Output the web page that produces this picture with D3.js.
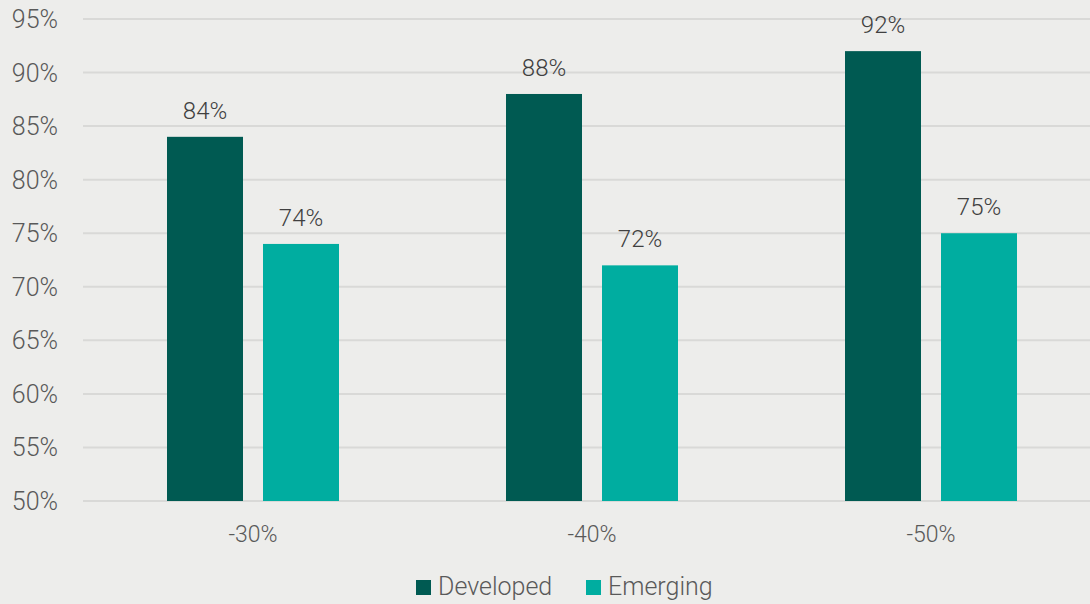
<!DOCTYPE html>
<html>
<head>
<meta charset="utf-8">
<script src="https://cdn.jsdelivr.net/npm/d3@7"></script>
<style>
  body { margin: 0; background: #ededeb; }
  svg { display: block; }
  text { font-family: Roboto, "Liberation Sans", sans-serif; font-weight: 300; }
</style>
</head>
<body>
<div id="chart"></div>
<script>
var categories = ["-30%", "-40%", "-50%"];
var seriesNames = ["Developed", "Emerging"];
var developed = [84, 88, 92];
var emerging = [74, 72, 75];
var yTicks = [50, 55, 60, 65, 70, 75, 80, 85, 90, 95];
var colors = ["#005a52", "#00ada0"];

var width = 1090, height = 604;

var svg = d3.select("#chart").append("svg")
    .attr("width", width)
    .attr("height", height);

svg.append("rect")
    .attr("width", width)
    .attr("height", height)
    .attr("fill", "#ededeb");

var x = d3.scaleBand()
    .domain(categories)
    .range([83.5, 1100.5]);

// bars inside one category band (band step 339)
var xInner = d3.scaleBand()
    .domain(seriesNames)
    .range([83.5, 255.5])
    .paddingInner(20 / 96);

var y = d3.scaleLinear()
    .domain([50, 95])
    .range([501, 19]);

// grid
svg.append("g").selectAll("line")
    .data(yTicks)
    .enter().append("line")
    .attr("x1", 83)
    .attr("x2", width)
    .attr("y1", function(d) { return y(d); })
    .attr("y2", function(d) { return y(d); })
    .attr("stroke", "#d9d9d7")
    .attr("stroke-width", 2);

// y labels
svg.append("g").selectAll("text")
    .data(yTicks)
    .enter().append("text")
    .attr("x", 58)
    .attr("y", function(d) { return y(d); })
    .attr("dy", "0.36em")
    .attr("text-anchor", "end")
    .attr("font-size", 25)
    .attr("fill", "#595959")
    .text(function(d) { return d + "%"; });

var rows = categories.map(function(c, i) {
  return { cat: c, values: [developed[i], emerging[i]] };
});

var groups = svg.selectAll("g.grp")
    .data(rows)
    .enter().append("g")
    .attr("class", "grp")
    .attr("transform", function(d) { return "translate(" + x(d.cat) + ",0)"; });

groups.selectAll("rect")
    .data(function(d) { return d.values.map(function(v, j) { return { name: seriesNames[j], v: v, j: j }; }); })
    .enter().append("rect")
    .attr("x", function(d) { return xInner(d.name); })
    .attr("width", xInner.bandwidth())
    .attr("y", function(d) { return y(d.v); })
    .attr("height", function(d) { return y(50) - y(d.v); })
    .attr("fill", function(d) { return colors[d.j]; });

groups.selectAll("text.val")
    .data(function(d) { return d.values.map(function(v, j) { return { name: seriesNames[j], v: v }; }); })
    .enter().append("text")
    .attr("class", "val")
    .attr("x", function(d) { return xInner(d.name) + xInner.bandwidth() / 2; })
    .attr("y", function(d) { return y(d.v) - 18; })
    .attr("text-anchor", "middle")
    .attr("font-size", 24)
    .attr("fill", "#404040")
    .text(function(d) { return d.v + "%"; });

// x labels
svg.append("g").selectAll("text")
    .data(categories)
    .enter().append("text")
    .attr("x", function(d) { return x(d) + x.bandwidth() / 2; })
    .attr("y", 542)
    .attr("text-anchor", "middle")
    .attr("font-size", 23)
    .attr("fill", "#595959")
    .text(function(d) { return d; });

// legend
var legendX = [416, 586];
var legend = svg.append("g").selectAll("g")
    .data(seriesNames)
    .enter().append("g")
    .attr("transform", function(d, i) { return "translate(" + legendX[i] + ",580)"; });

legend.append("rect")
    .attr("width", 15)
    .attr("height", 15)
    .attr("fill", function(d, i) { return colors[i]; });

legend.append("text")
    .attr("x", 22)
    .attr("y", 15)
    .attr("font-size", 25)
    .attr("fill", "#595959")
    .text(function(d) { return d; });
</script>
</body>
</html>
